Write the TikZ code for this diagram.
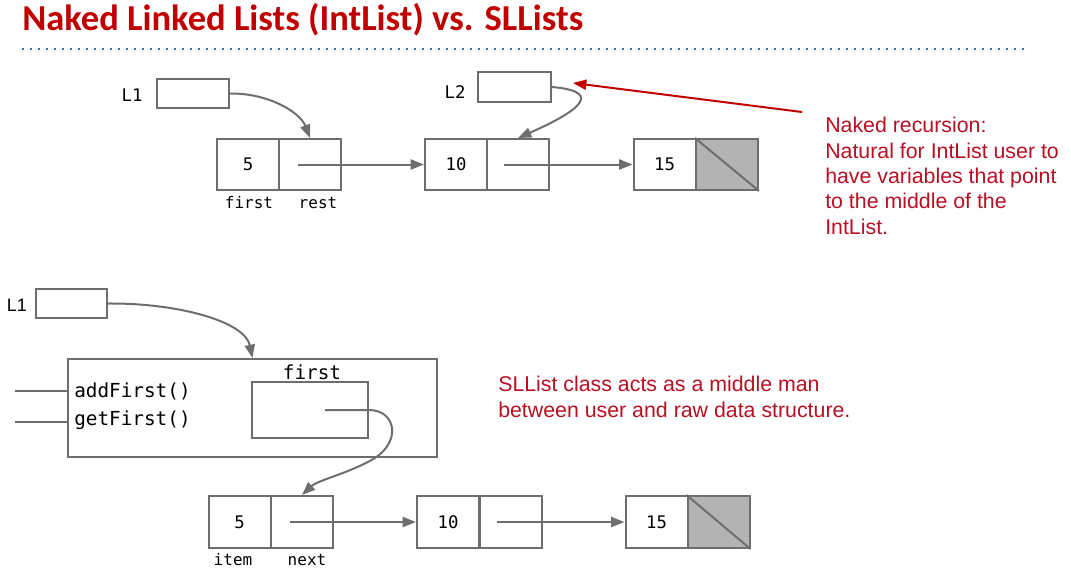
\documentclass[tikz,border=0pt]{standalone}
\usepackage{fontspec}
\usetikzlibrary{arrows.meta,calc}
\newfontfamily\monof{DejaVu Sans Mono}
\newfontfamily\titlef{Carlito}
\newfontfamily\arialf{Liberation Sans}
\definecolor{lg}{RGB}{110,110,110}
\definecolor{nullfill}{RGB}{179,179,179}
\definecolor{titlered}{RGB}{192,0,0}
\definecolor{txtred}{RGB}{185,15,35}
\definecolor{dotblue}{RGB}{46,117,182}
\def\u{0.75pt}
\tikzset{
  cellbox/.style={draw=lg, line width=1.5pt, minimum width=62*\u, minimum height=51*\u, inner sep=0pt, font=\monof\fontsize{13}{15}\selectfont},
  varbox/.style={draw=lg, line width=1.5pt, inner sep=0pt},
  ptr/.style={draw=lg, line width=1.5pt, -{Triangle[length=10pt,width=7.5pt]}},
  redptr/.style={draw=titlered, line width=1.5pt, -{Triangle[length=10pt,width=7.5pt]}},
  plainline/.style={draw=lg, line width=1.5pt},
  lbl/.style={inner sep=0pt, font=\monof\fontsize{12}{14}\selectfont},
  code/.style={inner sep=0pt, font=\monof\fontsize{14.5}{17}\selectfont},
  note/.style={inner sep=0pt, align=left, text=txtred, font=\arialf\fontsize{16}{19}\selectfont},
}
\begin{document}
\begin{tikzpicture}[x=0.75pt,y=-0.75pt]
\useasboundingbox (0,0) rectangle (1071,568);
% title
\node[anchor=base west, inner sep=0pt, text=titlered, font=\titlef\bfseries\fontsize{27.4}{32}\selectfont] (title) at (22,30) {Naked Linked Lists (IntList) vs. SLLists};
\coordinate (dl) at (22,49);
\coordinate (dr) at (1030,49);
\draw[dotblue, line width=1.5pt, dash pattern=on 1.5pt off 4.5pt] (dl) -- (dr);

% ---------- top: naked IntList ----------
\node[varbox, minimum width=72*\u, minimum height=29*\u] (L1) at (193,93.5) {};
\node[inner sep=0pt, font=\monof\fontsize{13}{15}\selectfont] (L1t) at (132,95) {L1};
\node[varbox, minimum width=73*\u, minimum height=30*\u] (L2) at (514.5,87) {};
\node[inner sep=0pt, font=\monof\fontsize{13}{15}\selectfont] (L2t) at (455,92) {L2};

\node[cellbox] (a5) at (248,164.5) {5};
\node[cellbox] (a5r) at (310,164.5) {};
\node[cellbox] (a10) at (456,164.5) {10};
\node[cellbox] (a10r) at (518,164.5) {};
\node[cellbox] (a15) at (664.5,164.5) {15};
\node[cellbox, fill=nullfill] (a15r) at (727,164.5) {};
\draw[plainline] (a15r.north west) -- (a15r.south east);
\node[lbl] (tfirst) at (249,203) {first};
\node[lbl] (trest) at (318,203) {rest};

\draw[ptr] (L1.east) .. controls (268,93) and (300,112) .. (a5r.north);
\draw[ptr] ($(a5r.center)+(-12,0)$) -- (a10.west);
\draw[ptr] ($(a10r.center)+(-14,0)$) -- (a15.west);
\draw[ptr] (L2.east) .. controls (610,92) and (570,115) .. (a10r.north);

\coordinate (rs) at (802,112);
\coordinate (rt) at (573,83);
\draw[redptr] (rs) -- (rt);
\node[note, anchor=north west] (n1) at (825,117) {Naked recursion:\\Natural for IntList user to\\have variables that point\\to the middle of the\\IntList.};

% ---------- bottom: SLList ----------
\node[varbox, minimum width=71*\u, minimum height=29*\u] (B1) at (71.5,303.5) {};
\node[inner sep=0pt, font=\arialf\fontsize{13.5}{16}\selectfont] (B1t) at (17,305) {L1};
\node[varbox, minimum width=369*\u, minimum height=98*\u] (big) at (252.5,408) {};
\node[varbox, minimum width=116*\u, minimum height=56*\u] (inner) at (310,410) {};
\node[code] (bfirst) at (312,372) {first};
\node[code, anchor=west] (add) at (74,391) {addFirst()};
\node[code, anchor=west] (get) at (74,420) {getFirst()};
\coordinate (s1) at (15,391);
\coordinate (s2) at (15,422);
\draw[plainline] (s1) -- (s1 -| big.west);
\draw[plainline] (s2) -- (s2 -| big.west);

\node[cellbox, minimum height=52*\u] (b5) at (239.5,522) {5};
\node[cellbox, minimum height=52*\u] (b5r) at (302,522) {};
\node[cellbox, minimum height=52*\u] (b10) at (448,522) {10};
\node[cellbox, minimum height=52*\u] (b10r) at (510.5,522) {};
\node[cellbox, minimum height=52*\u] (b15) at (656.5,522) {15};
\node[cellbox, minimum height=52*\u, fill=nullfill] (b15r) at (718.5,522) {};
\draw[plainline] (b15r.north west) -- (b15r.south east);
\node[lbl] (bitem) at (233,560) {item};
\node[lbl] (bnext) at (307,560) {next};

\draw[ptr] (B1.east) .. controls (180,303) and (245,322) .. (big.north);
\draw[ptr] ($(inner.center)+(15,0)$) -- (inner.east) .. controls (395,410) and (402,440) .. (375,458) .. controls (350,473) and (318,480) .. (b5r.north);
\draw[ptr] ($(b5r.center)+(-12,0)$) -- (b10.west);
\draw[ptr] ($(b10r.center)+(-14,0)$) -- (b15.west);

\node[note, anchor=north west, font=\arialf\fontsize{16}{19.5}\selectfont] (n2) at (498,376) {SLList class acts as a middle man\\between user and raw data structure.};
\end{tikzpicture}
\end{document}
